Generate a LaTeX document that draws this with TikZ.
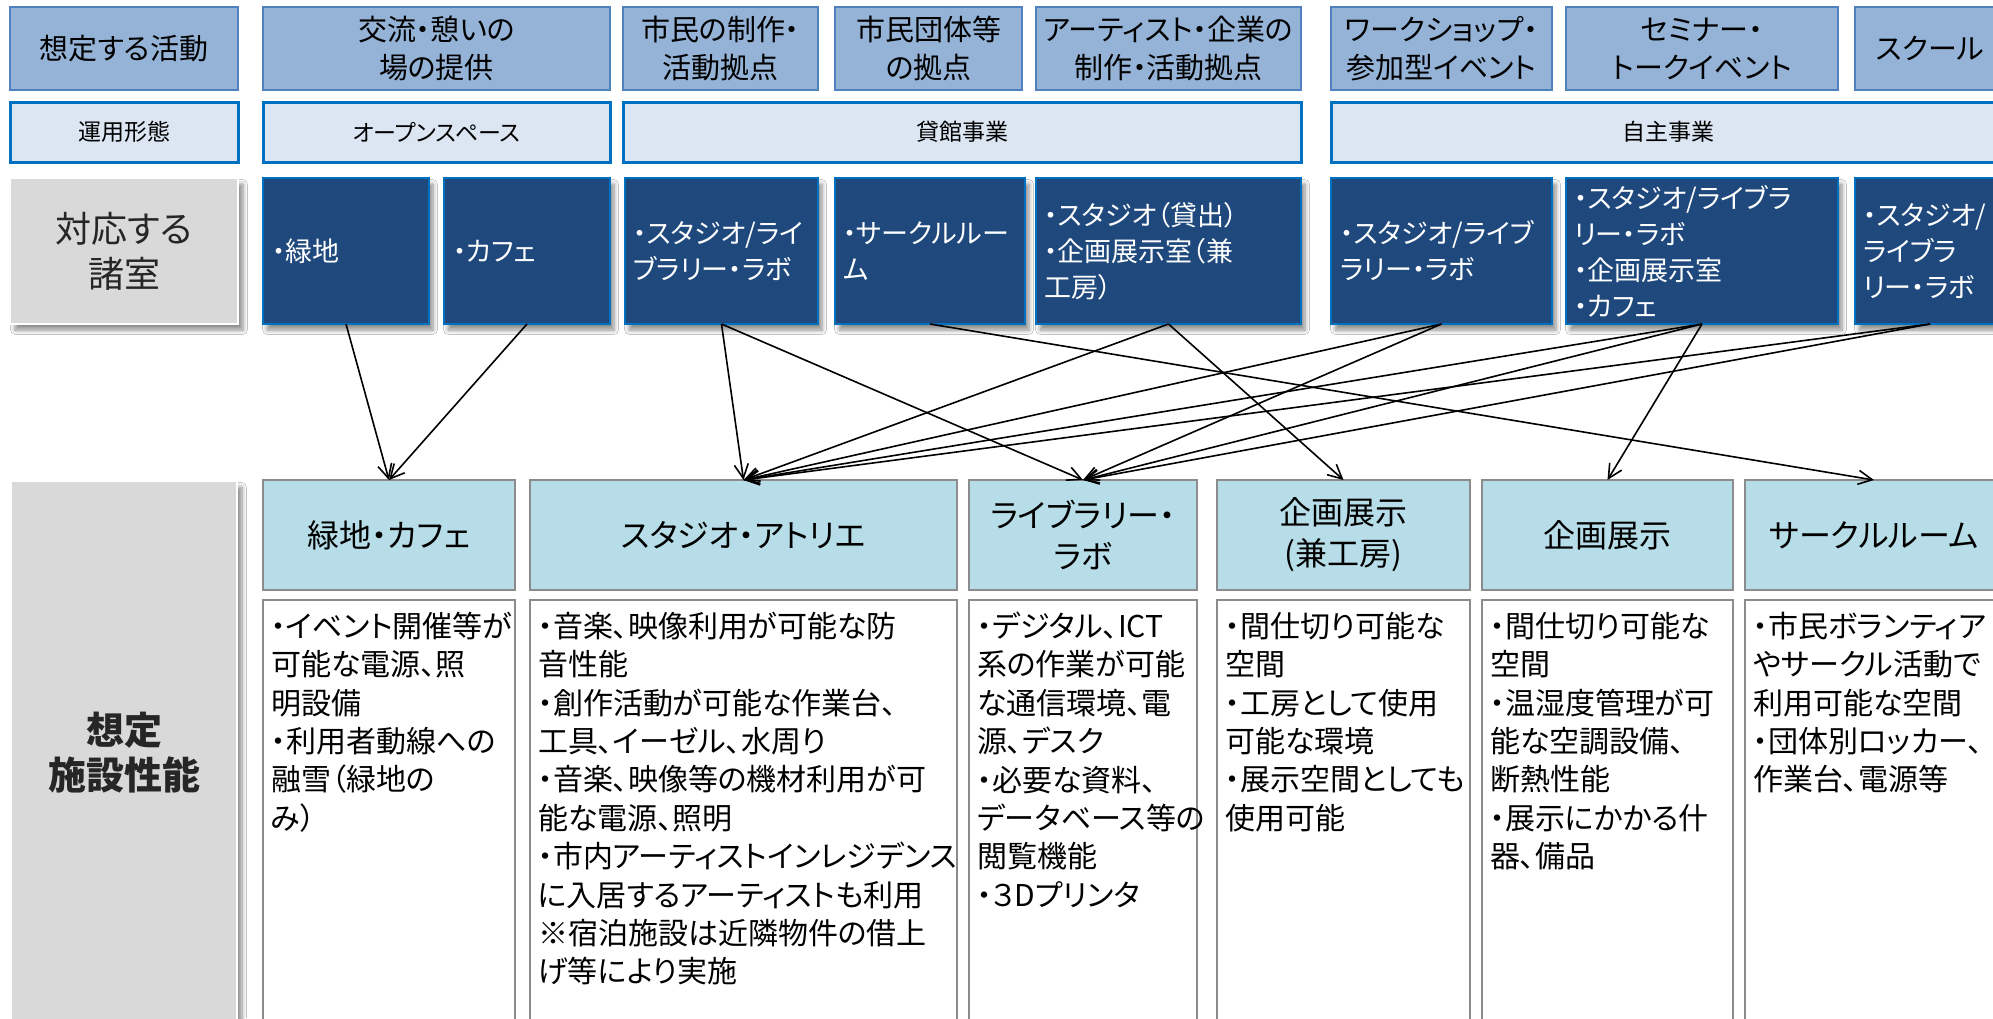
\documentclass[tikz,border=0pt]{standalone}
\usepackage{fontspec}
\setmainfont{Noto Sans CJK JP}[RawFeature={+palt}]
\usetikzlibrary{arrows.meta,shadows.blur}
\definecolor{actfill}{HTML}{95B3D7}
\definecolor{actline}{HTML}{4F81BD}
\definecolor{opfill}{HTML}{DCE6F2}
\definecolor{opline}{HTML}{0070C0}
\definecolor{roomfill}{HTML}{1F497D}
\definecolor{roomline}{HTML}{0070C0}
\definecolor{grayfill}{HTML}{D9D9D9}
\definecolor{perfhead}{HTML}{B7DEE8}
\definecolor{perfline}{HTML}{8C8C8C}
\newcommand\bx[7]{\node[#1, minimum width={(#5-#3)*0.5pt}, minimum height={(#6-#4)*0.5pt}] (#2) at ({(#3+#5)/2},{(#4+#6)/2}) {#7};}
\begin{document}
\begin{tikzpicture}[x=0.5pt,y=-0.5pt,
  every node/.style={inner sep=0pt, outer sep=0pt},
  actbox/.style={draw=actline, line width=1.2pt, fill=actfill, align=center, font=\fontsize{14.5}{19}\selectfont},
  opbox/.style={draw=opline, line width=1.5pt, fill=opfill, align=center, font=\fontsize{11.5}{14}\selectfont},
  roombox/.style={draw=roomline, line width=1pt, fill=roomfill, blur shadow={shadow xshift=2pt, shadow yshift=-3pt, shadow blur steps=6, shadow opacity=45}},
  roomtext/.style={text=white, align=left, anchor=west, font=\fontsize{13.5}{18}\selectfont},
  graybox/.style={fill=grayfill, draw=white, line width=0.8pt, align=center, text=black!85, blur shadow={shadow xshift=2.5pt, shadow yshift=-3pt, shadow blur steps=6, shadow opacity=45}, font=\fontsize{18}{22.5}\selectfont},
  headbox/.style={draw=perfline, line width=1pt, fill=perfhead, align=center, font=\fontsize{16}{20.5}\selectfont},
  contbox/.style={draw=perfline, line width=0.8pt, fill=white},
  conttext/.style={anchor=north west, align=left, font=\fontsize{15}{19.2}\selectfont},
  link/.style={draw=black, line width=0.8pt, -{Straight Barb[length=7pt,width=7pt]}}
]
\useasboundingbox (0,0) rectangle (1993,1018);
\clip (0,0) rectangle (1993,1018);
\fill[white] (0,0) rectangle (1993,1018);
% row 1
\bx{actbox}{a0}{10}{7}{238}{90}{想定する活動}
\bx{actbox}{a1}{263}{7}{610}{90}{交流・憩いの\\場の提供}
\bx{actbox}{a2}{623}{7}{818}{90}{市民の制作・\\活動拠点}
\bx{actbox}{a3}{835}{7}{1022}{90}{市民団体等\\の拠点}
\bx{actbox}{a4}{1036}{7}{1301}{90}{アーティスト・企業の\\制作・活動拠点}
\bx{actbox}{a5}{1331}{7}{1552}{90}{ワークショップ・\\参加型イベント}
\bx{actbox}{a6}{1566}{7}{1838}{90}{セミナー・\\トークイベント}
\bx{actbox}{a7}{1855}{7}{2005}{90}{スクール}
% row 2
\bx{opbox}{o0}{10}{102}{238}{162}{運用形態}
\bx{opbox}{o1}{263}{102}{610}{162}{オープンスペース}
\bx{opbox}{o2}{623}{102}{1301}{162}{貸館事業}
\bx{opbox}{o3}{1331}{102}{2005}{162}{自主事業}
% row 3
\bx{graybox}{r0}{10}{178}{238}{324}{対応する\\諸室}
\bx{roombox}{r1}{263}{178}{429}{324}{}
\bx{roombox}{r2}{444}{178}{610}{324}{}
\bx{roombox}{r3}{625}{178}{818}{324}{}
\bx{roombox}{r4}{835}{178}{1025}{324}{}
\bx{roombox}{r5}{1036}{178}{1301}{324}{}
\bx{roombox}{r6}{1331}{178}{1552}{324}{}
\bx{roombox}{r7}{1566}{178}{1838}{324}{}
\bx{roombox}{r8}{1855}{178}{2005}{324}{}
\node[roomtext] (rt1) at (272,251) {・緑地};
\node[roomtext] (rt2) at (453,251) {・カフェ};
\node[roomtext] (rt3) at (633,251) {・スタジオ/ライ\\ブラリー・ラボ};
\node[roomtext] (rt4) at (843,251) {・サークルルー\\ム};
\node[roomtext] (rt5) at (1044,251) {・スタジオ（貸出）\\・企画展示室（兼\\工房）};
\node[roomtext] (rt6) at (1340,251) {・スタジオ/ライブ\\ラリー・ラボ};
\node[roomtext] (rt7) at (1574,251) {・スタジオ/ライブラ\\リー・ラボ\\・企画展示室\\・カフェ};
\node[roomtext] (rt8) at (1863,251) {・スタジオ/\\ライブラ\\リー・ラボ};
% row 4
\bx{graybox}{p0}{11}{481}{237}{1024}{\fontsize{19}{22.5}\selectfont\bfseries 想定\\\fontsize{19}{22.5}\selectfont\bfseries 施設性能}
\bx{headbox}{h1}{263}{480}{515}{590}{緑地・カフェ}
\bx{headbox}{h2}{530}{480}{957}{590}{スタジオ・アトリエ}
\bx{headbox}{h3}{969}{480}{1197}{590}{ライブラリー・\\ラボ}
\bx{headbox}{h4}{1217}{480}{1470}{590}{企画展示\\(兼工房)}
\bx{headbox}{h5}{1482}{480}{1733}{590}{企画展示}
\bx{headbox}{h6}{1745}{480}{2003}{590}{サークルルーム}
\bx{contbox}{c1}{263}{600}{515}{1030}{}
\bx{contbox}{c2}{530}{600}{957}{1030}{}
\bx{contbox}{c3}{969}{600}{1197}{1030}{}
\bx{contbox}{c4}{1217}{600}{1470}{1030}{}
\bx{contbox}{c5}{1482}{600}{1733}{1030}{}
\bx{contbox}{c6}{1745}{600}{2003}{1030}{}
\node[conttext] (ct1) at (271,612) {・イベント開催等が\\可能な電源、照\\明設備\\・利用者動線への\\融雪（緑地の\\み）};
\node[conttext] (ct2) at (538,612) {・音楽、映像利用が可能な防\\音性能\\・創作活動が可能な作業台、\\工具、イーゼル、水周り\\・音楽、映像等の機材利用が可\\能な電源、照明\\・市内アーティストインレジデンス\\に入居するアーティストも利用\\※宿泊施設は近隣物件の借上\\げ等により実施};
\node[conttext] (ct3) at (977,612) {・デジタル、ICT\\系の作業が可能\\な通信環境、電\\源、デスク\\・必要な資料、\\データベース等の\\閲覧機能\\・３Dプリンタ};
\node[conttext] (ct4) at (1225,612) {・間仕切り可能な\\空間\\・工房として使用\\可能な環境\\・展示空間としても\\使用可能};
\node[conttext] (ct5) at (1490,612) {・間仕切り可能な\\空間\\・温湿度管理が可\\能な空調設備、\\断熱性能\\・展示にかかる什\\器、備品};
\node[conttext] (ct6) at (1753,612) {・市民ボランティア\\やサークル活動で\\利用可能な空間\\・団体別ロッカー、\\作業台、電源等};
% connectors
\draw[link] (r1.south) -- (h1.north);
\draw[link] (r2.south) -- (h1.north);
\draw[link] (r3.south) -- (h2.north);
\draw[link] (r3.south) -- (h3.north);
\draw[link] (r4.south) -- (h6.north);
\draw[link] (r5.south) -- (h2.north);
\draw[link] (r5.south) -- (h4.north);
\draw[link] (r6.south) -- (h2.north);
\draw[link] (r6.south) -- (h3.north);
\draw[link] (r7.south) -- (h2.north);
\draw[link] (r7.south) -- (h3.north);
\draw[link] (r7.south) -- (h5.north);
\draw[link] (r8.south) -- (h2.north);
\draw[link] (r8.south) -- (h3.north);
\end{tikzpicture}
\end{document}
